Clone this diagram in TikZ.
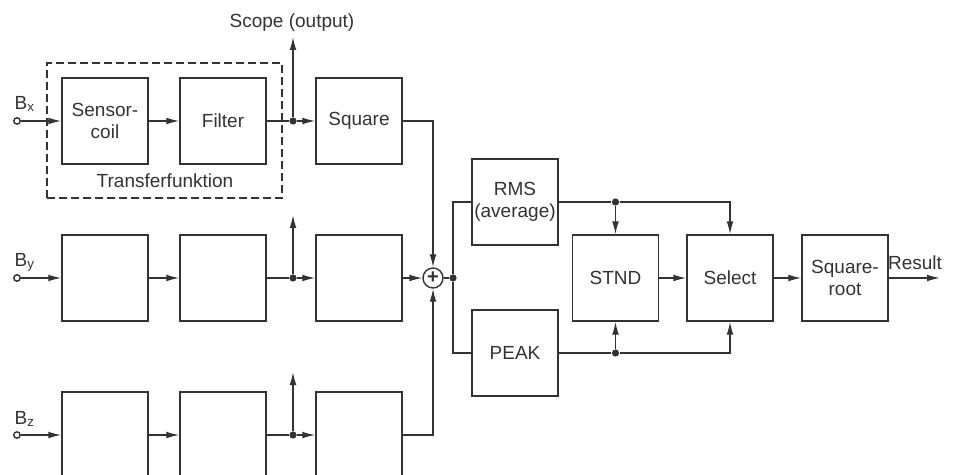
\documentclass[tikz,border=0pt]{standalone}
\usepackage{fontspec}
\setmainfont{Liberation Sans}
\usetikzlibrary{arrows.meta}

\begin{document}
\begin{tikzpicture}[x=0.5pt,y=-0.5pt,line width=0.7pt,color=black!80,
  font=\fontsize{9.5}{11}\selectfont,
  blk/.style={draw,minimum width=43pt,minimum height=43pt,align=center,inner sep=1pt},
  arr/.style={-{Latex[length=6.5pt,width=3.4pt]}},
  jdot/.style={circle,fill,inner sep=0pt,minimum size=3.6pt},
  inport/.style={circle,draw,fill=white,inner sep=0pt,minimum size=3.2pt}]
  \clip (0,0) rectangle (956,475);
  % three sensor chains
  \foreach \r/\y/\s/\u/\ta/\tb/\tc in {1/121/x/84/{Sensor-\\coil}/Filter/Square,
                                      2/278/y/63///,
                                      3/435/z/63///}{
    \node[blk] (sc\r) at (105,\y) {\ta};
    \node[blk] (fl\r) at (223,\y) {\tb};
    \node[blk] (sq\r) at (359,\y) {\tc};
    \node[jdot] (j\r) at (293,\y) {};
    \coordinate (up\r) at (293,{\y-\u});
    \node[inport] (in\r) at (17,\y) {};
    \node[anchor=base west,inner sep=0pt] (lb\r) at (14,{\y-11}) {B\textsubscript{\s}};
    \draw[arr] (in\r) -- (sc\r);
    \draw[arr] (sc\r) -- (fl\r);
    \draw (fl\r) -- (j\r);
    \draw[arr] (j\r) -- (sq\r);
    \draw[arr] (j\r) -- (up\r);
  }
  \node[draw,dash pattern=on 4pt off 2pt,minimum width=117.5pt,minimum height=67.5pt] (tf) at (164.5,130.5) {};
  \node[anchor=base] (tflabel) at (165,188) {Transferfunktion};
  \node[anchor=base] (scope) at (292,28) {Scope (output)};

  % summing point
  \node[circle,draw,inner sep=0pt,minimum size=10pt,font=\fontsize{10}{10}\bfseries] (plus) at (433,278) {+};
  \draw[arr] (sq1) -| (plus.north);
  \draw[arr] (sq2) -- (plus.west);
  \draw[arr] (sq3) -| (plus.south);
  \node[jdot] (sp) at (453,278) {};
  \draw (plus) -- (sp);

  % evaluation
  \node[blk] (rms) at (515,202) {RMS\\(average)};
  \node[blk] (pk) at (515,353) {PEAK};
  \node[blk] (stnd) at (615.5,278) {STND};
  \node[blk] (sel) at (730,278) {Select};
  \node[blk] (sqr) at (845,278) {Square-\\root};
  \draw (sp) |- (rms);
  \draw (sp) |- (pk);
  \node[jdot] (d1) at (rms.east -| stnd.north) {};
  \node[jdot] (d2) at (pk.east -| stnd.south) {};
  \draw (rms) -- (d1);
  \draw (pk) -- (d2);
  \draw[arr] (d1) -- (stnd);
  \draw[arr] (d2) -- (stnd);
  \draw[arr] (d1) -| (sel.north);
  \draw[arr] (d2) -| (sel.south);
  \draw[arr] (stnd) -- (sel);
  \draw[arr] (sel) -- (sqr);
  \coordinate (res) at (940,278);
  \draw[arr] (sqr) -- (res);
  \node[anchor=base] (reslabel) at (915,270) {Result};
\end{tikzpicture}
\end{document}
